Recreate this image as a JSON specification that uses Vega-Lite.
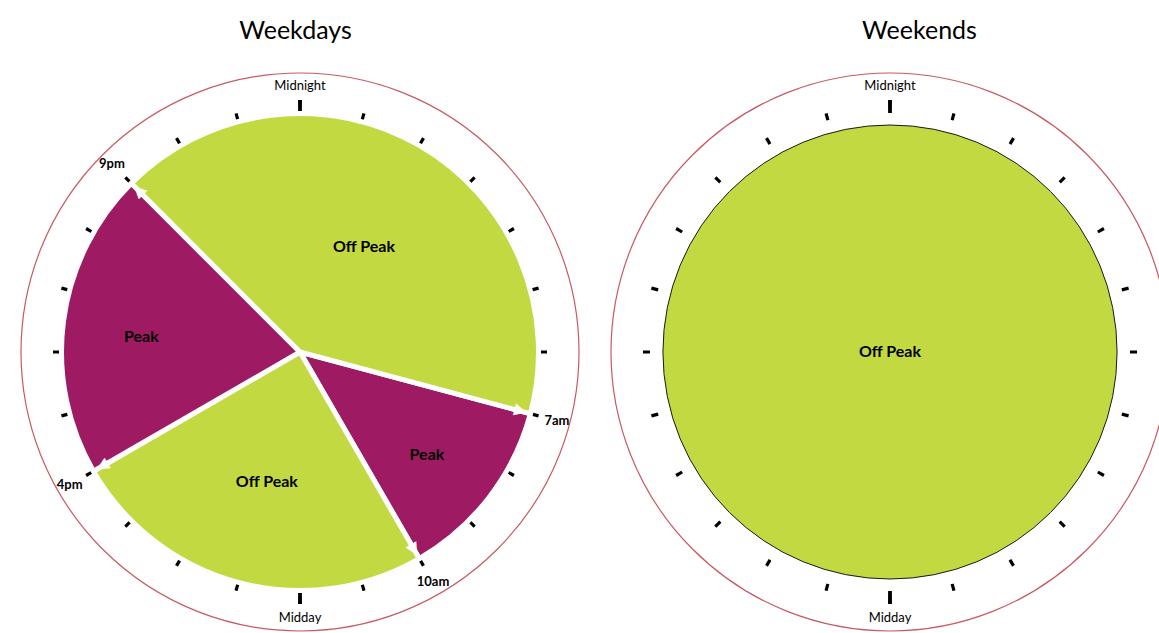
{
  "$schema": "https://vega.github.io/schema/vega-lite/v6.json",
  "width": 1159,
  "height": 562,
  "autosize": {"type": "none"},
  "padding": {"top": 71, "left": 0, "right": 0, "bottom": 0},
  "background": "white",
  "config": {"view": {"stroke": null}, "text": {"font": "Lato"}},
  "datasets": {
    "panels": [{"panel": "Weekdays"}, {"panel": "Weekends"}],
    "segments": [
      {"panel": "Weekdays", "period": "Peak", "from": 7, "to": 10, "hours": 3},
      {"panel": "Weekdays", "period": "Off Peak", "from": 10, "to": 16, "hours": 6},
      {"panel": "Weekdays", "period": "Peak", "from": 16, "to": 21, "hours": 5},
      {"panel": "Weekdays", "period": "Off Peak", "from": 21, "to": 7, "hours": 10},
      {"panel": "Weekends", "period": "Off Peak", "from": 0, "to": 24, "hours": 24}
    ],
    "ticks": [
      {"panel": "Weekdays", "hour": 0}, {"panel": "Weekdays", "hour": 1}, {"panel": "Weekdays", "hour": 2}, {"panel": "Weekdays", "hour": 3},
      {"panel": "Weekdays", "hour": 4}, {"panel": "Weekdays", "hour": 5}, {"panel": "Weekdays", "hour": 6}, {"panel": "Weekdays", "hour": 7},
      {"panel": "Weekdays", "hour": 8}, {"panel": "Weekdays", "hour": 9}, {"panel": "Weekdays", "hour": 10}, {"panel": "Weekdays", "hour": 11},
      {"panel": "Weekdays", "hour": 12}, {"panel": "Weekdays", "hour": 13}, {"panel": "Weekdays", "hour": 14}, {"panel": "Weekdays", "hour": 15},
      {"panel": "Weekdays", "hour": 16}, {"panel": "Weekdays", "hour": 17}, {"panel": "Weekdays", "hour": 18}, {"panel": "Weekdays", "hour": 19},
      {"panel": "Weekdays", "hour": 20}, {"panel": "Weekdays", "hour": 21}, {"panel": "Weekdays", "hour": 22}, {"panel": "Weekdays", "hour": 23},
      {"panel": "Weekends", "hour": 0}, {"panel": "Weekends", "hour": 1}, {"panel": "Weekends", "hour": 2}, {"panel": "Weekends", "hour": 3},
      {"panel": "Weekends", "hour": 4}, {"panel": "Weekends", "hour": 5}, {"panel": "Weekends", "hour": 6}, {"panel": "Weekends", "hour": 7},
      {"panel": "Weekends", "hour": 8}, {"panel": "Weekends", "hour": 9}, {"panel": "Weekends", "hour": 10}, {"panel": "Weekends", "hour": 11},
      {"panel": "Weekends", "hour": 12}, {"panel": "Weekends", "hour": 13}, {"panel": "Weekends", "hour": 14}, {"panel": "Weekends", "hour": 15},
      {"panel": "Weekends", "hour": 16}, {"panel": "Weekends", "hour": 17}, {"panel": "Weekends", "hour": 18}, {"panel": "Weekends", "hour": 19},
      {"panel": "Weekends", "hour": 20}, {"panel": "Weekends", "hour": 21}, {"panel": "Weekends", "hour": 22}, {"panel": "Weekends", "hour": 23}
    ],
    "clockLabels": [
      {"panel": "Weekdays", "hour": 0, "label": "Midnight"},
      {"panel": "Weekdays", "hour": 12, "label": "Midday"},
      {"panel": "Weekdays", "hour": 7, "label": "7am"},
      {"panel": "Weekdays", "hour": 10, "label": "10am"},
      {"panel": "Weekdays", "hour": 16, "label": "4pm"},
      {"panel": "Weekdays", "hour": 21, "label": "9pm"},
      {"panel": "Weekends", "hour": 0, "label": "Midnight"},
      {"panel": "Weekends", "hour": 12, "label": "Midday"}
    ]
  },
  "resolve": {"scale": {"theta": "independent"}},
  "layer": [
    {
      "data": {"name": "panels"},
      "mark": {"type": "arc", "filled": false, "stroke": "#c75b62", "strokeWidth": 1.2, "radius": 279, "theta": 0, "theta2": 6.2832},
      "encoding": {
        "x": {
          "field": "panel", "type": "nominal",
          "scale": {"type": "point", "domain": ["Weekdays", "Weekends"], "range": [300, 890], "padding": 0},
          "axis": {
            "orient": "top", "title": null, "domain": false, "ticks": false, "tickSize": 0,
            "labelPadding": 41, "labelBaseline": "middle", "labelFont": "Lato", "labelFontSize": 25,
            "labelColor": "#000000", "labelAngle": 0,
            "labelOffset": {"condition": {"test": "datum.value == 'Weekends'", "value": 29}, "value": -5}
          }
        }
      }
    },
    {
      "data": {"name": "ticks"},
      "transform": [{"filter": "datum.hour % 12 != 0"}],
      "mark": {"type": "arc", "color": "#000000", "radius": 247, "radius2": 240},
      "encoding": {
        "x": {"field": "panel", "type": "nominal"},
        "theta": {
          "field": "hour", "type": "ordinal",
          "scale": {"type": "band", "domain": [0,1,2,3,4,5,6,7,8,9,10,11,12,13,14,15,16,17,18,19,20,21,22,23], "range": [-0.1309, 6.1523], "paddingInner": 0.95, "paddingOuter": 0.475}
        }
      }
    },
    {
      "data": {"name": "ticks"},
      "transform": [{"filter": "datum.hour % 12 == 0"}],
      "mark": {"type": "arc", "color": "#000000", "radius": 252, "radius2": 239},
      "encoding": {
        "x": {"field": "panel", "type": "nominal"},
        "theta": {
          "field": "hour", "type": "ordinal",
          "scale": {"type": "band", "domain": [0,1,2,3,4,5,6,7,8,9,10,11,12,13,14,15,16,17,18,19,20,21,22,23], "range": [-0.1309, 6.1523], "paddingInner": 0.94, "paddingOuter": 0.47}
        }
      }
    },
    {
      "data": {"name": "segments"},
      "transform": [{"filter": "datum.panel == 'Weekdays'"}],
      "mark": {"type": "arc", "radius": 238.5, "stroke": "#ffffff", "strokeWidth": 5},
      "encoding": {
        "x": {"field": "panel", "type": "nominal"},
        "theta": {"field": "hours", "type": "quantitative", "stack": true, "scale": {"domain": [0, 24], "range": [1.8326, 8.1158]}},
        "order": {"field": "from", "type": "quantitative"},
        "color": {"field": "period", "type": "nominal", "scale": {"domain": ["Off Peak", "Peak"], "range": ["#c3d941", "#9e1b63"]}, "legend": null}
      }
    },
    {
      "data": {"name": "segments"},
      "transform": [{"filter": "datum.panel == 'Weekdays'"}],
      "mark": {"type": "text", "text": "▲", "font": "DejaVu Sans", "fontSize": 16, "color": "#ffffff", "radius": 229, "align": "center", "baseline": "middle"},
      "encoding": {
        "x": {"field": "panel", "type": "nominal"},
        "theta": {"field": "from", "type": "quantitative", "stack": null, "scale": {"domain": [0, 24], "range": [0, 6.2832]}},
        "angle": {"field": "from", "type": "quantitative", "scale": {"domain": [0, 24], "range": [0, 360]}}
      }
    },
    {
      "data": {"name": "segments"},
      "transform": [{"filter": "datum.panel == 'Weekdays'"}],
      "mark": {"type": "text", "radius": {"expr": "datum.period == 'Peak' ? 160 : 128"}, "dy": 6, "fontSize": 16, "fontWeight": "bold", "color": "#000000"},
      "encoding": {
        "x": {"field": "panel", "type": "nominal"},
        "theta": {"field": "hours", "type": "quantitative", "stack": true, "scale": {"domain": [0, 24], "range": [1.8326, 8.1158]}},
        "order": {"field": "from", "type": "quantitative"},
        "text": {"field": "period"}
      }
    },
    {
      "data": {"name": "segments"},
      "transform": [{"filter": "datum.panel == 'Weekends'"}],
      "mark": {"type": "arc", "radius": 227, "stroke": "#1a1a1a", "strokeWidth": 1},
      "encoding": {
        "x": {"field": "panel", "type": "nominal"},
        "theta": {"field": "hours", "type": "quantitative", "stack": true, "scale": {"domain": [0, 24], "range": [0, 6.2832]}},
        "color": {"field": "period", "type": "nominal", "scale": {"domain": ["Off Peak", "Peak"], "range": ["#c3d941", "#9e1b63"]}, "legend": null}
      }
    },
    {
      "data": {"name": "segments"},
      "transform": [{"filter": "datum.panel == 'Weekends'"}],
      "mark": {"type": "text", "fontSize": 16, "fontWeight": "bold", "color": "#000000", "align": "center", "baseline": "middle"},
      "encoding": {
        "x": {"field": "panel", "type": "nominal"},
        "text": {"field": "period"}
      }
    },
    {
      "data": {"name": "clockLabels"},
      "transform": [{"filter": "datum.hour % 12 == 0"}],
      "mark": {"type": "text", "radius": 266, "fontSize": 13, "color": "#000000", "align": "center", "baseline": "middle"},
      "encoding": {
        "x": {"field": "panel", "type": "nominal"},
        "theta": {"field": "hour", "type": "quantitative", "stack": null, "scale": {"domain": [0, 24], "range": [0, 6.2832]}},
        "text": {"field": "label"}
      }
    },
    {
      "data": {"name": "clockLabels"},
      "transform": [{"filter": "datum.hour % 12 != 0"}],
      "mark": {"type": "text", "radius": 266, "fontSize": 13, "fontWeight": "bold", "color": "#000000", "align": "center", "baseline": "middle"},
      "encoding": {
        "x": {"field": "panel", "type": "nominal"},
        "theta": {"field": "hour", "type": "quantitative", "stack": null, "scale": {"domain": [0, 24], "range": [0, 6.2832]}},
        "text": {"field": "label"}
      }
    }
  ]
}
